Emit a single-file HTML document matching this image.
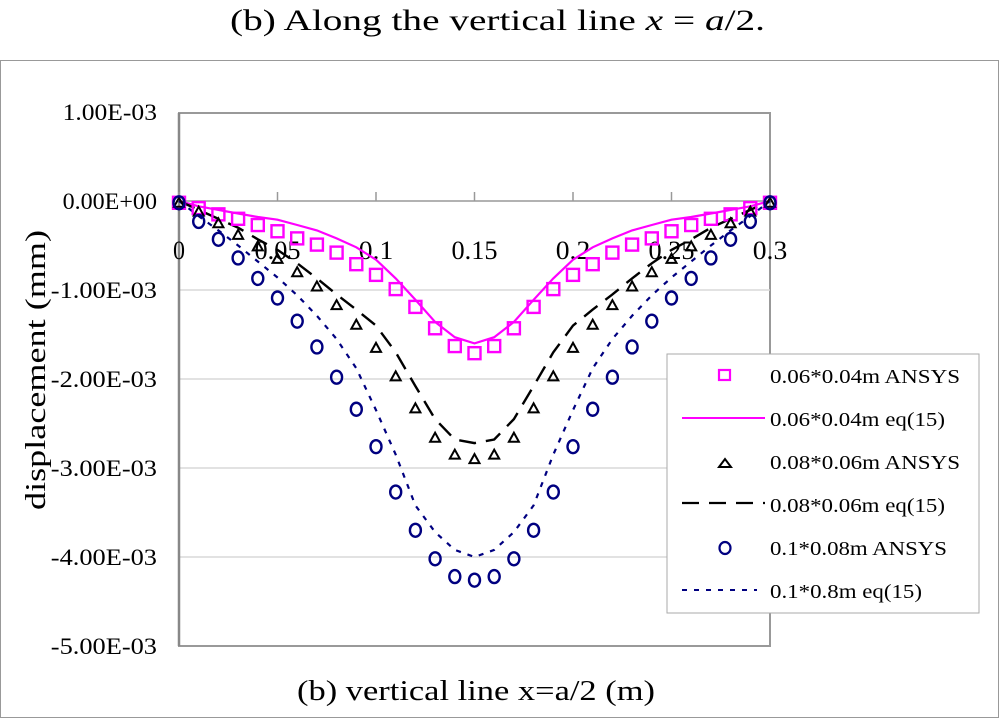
<!DOCTYPE html>
<html><head><meta charset="utf-8"><style>
body{margin:0;background:#fff;}
svg{display:block;font-family:"Liberation Serif",serif;}
</style></head><body>
<svg id="chart" width="1000" height="718" xmlns="http://www.w3.org/2000/svg">
<text x="230" y="30" font-size="30" textLength="535" lengthAdjust="spacingAndGlyphs">(b) Along the vertical line <tspan font-style="italic">x</tspan> = <tspan font-style="italic">a</tspan>/2.</text>
<rect x="0.5" y="60.5" width="998" height="657" fill="none" stroke="#999"/>
<rect x="179" y="113" width="591" height="533" fill="none" stroke="#999" stroke-width="2"/>
<g id="grid"></g>
<g id="axes"></g>
<g id="series"></g>
<text transform="translate(45,370) rotate(-90)" font-size="28" text-anchor="middle" textLength="280" lengthAdjust="spacingAndGlyphs">displacement (mm)</text>
<text x="297" y="700" font-size="29" textLength="358" lengthAdjust="spacingAndGlyphs">(b) vertical line x=a/2 (m)</text>
<g>
<rect x="667" y="354" width="312" height="259" fill="#fff" stroke="#aaa"/>
<rect x="719" y="370" width="11" height="10" fill="none" stroke="#ff00ff" stroke-width="2.2"/>
<text x="770" y="383" font-size="20" textLength="190" lengthAdjust="spacingAndGlyphs">0.06*0.04m ANSYS</text>
<line x1="682" y1="418" x2="765" y2="418" stroke="#ff00ff" stroke-width="2"/>
<text x="770" y="426" font-size="20" textLength="175" lengthAdjust="spacingAndGlyphs">0.06*0.04m eq(15)</text>
<path d="M719,467 L725,459 L731,467 Z" fill="none" stroke="#000" stroke-width="2"/>
<text x="770" y="469" font-size="20" textLength="190" lengthAdjust="spacingAndGlyphs">0.08*0.06m ANSYS</text>
<line x1="682" y1="503" x2="765" y2="503" stroke="#000" stroke-width="2.2" stroke-dasharray="17,10"/>
<text x="770" y="512" font-size="20" textLength="175" lengthAdjust="spacingAndGlyphs">0.08*0.06m eq(15)</text>
<ellipse cx="725" cy="548" rx="5.5" ry="6" fill="none" stroke="#000080" stroke-width="2.2"/>
<text x="770" y="555" font-size="20" textLength="177" lengthAdjust="spacingAndGlyphs">0.1*0.08m ANSYS</text>
<line x1="682" y1="590" x2="757" y2="590" stroke="#000080" stroke-width="2" stroke-dasharray="5,7"/>
<text x="770" y="598" font-size="20" textLength="152" lengthAdjust="spacingAndGlyphs">0.1*0.8m eq(15)</text>
</g>
</svg>
<script>
const xTicks=[0,0.05,0.1,0.15,0.2,0.25,0.3];
const xTickLabels=["0","0.05","0.1","0.15","0.2","0.25","0.3"];
const yTicks=[1,0,-1,-2,-3,-4,-5];
const yTickLabels=["1.00E-03","0.00E+00","-1.00E-03","-2.00E-03","-3.00E-03","-4.00E-03","-5.00E-03"];
const xs=[0,0.01,0.02,0.03,0.04,0.05,0.06,0.07,0.08,0.09,0.10,0.11,0.12,0.13,0.14,0.15,0.16,0.17,0.18,0.19,0.20,0.21,0.22,0.23,0.24,0.25,0.26,0.27,0.28,0.29,0.30];
const halfSq=[-0.02,-0.08,-0.15,-0.2,-0.27,-0.34,-0.42,-0.49,-0.58,-0.71,-0.83,-0.99,-1.19,-1.43,-1.63,-1.71];
const halfSqLine=[0,-0.06,-0.1,-0.14,-0.18,-0.21,-0.27,-0.33,-0.42,-0.52,-0.66,-0.87,-1.11,-1.36,-1.53,-1.6];
const halfTri=[-0.02,-0.12,-0.25,-0.38,-0.51,-0.65,-0.8,-0.96,-1.17,-1.39,-1.65,-1.97,-2.33,-2.66,-2.85,-2.9];
const halfTriLine=[0,-0.1,-0.2,-0.3,-0.43,-0.55,-0.7,-0.87,-1.05,-1.22,-1.4,-1.7,-2.08,-2.45,-2.68,-2.72];
const halfCirc=[-0.02,-0.23,-0.43,-0.64,-0.87,-1.09,-1.35,-1.64,-1.98,-2.34,-2.76,-3.27,-3.7,-4.02,-4.22,-4.26];
const halfCircLine=[0,-0.17,-0.33,-0.5,-0.68,-0.86,-1.06,-1.29,-1.55,-1.88,-2.35,-2.85,-3.42,-3.72,-3.92,-4.0];
function mirror(h){return h.concat(h.slice(0,-1).reverse());}
const sq=mirror(halfSq),sqL=mirror(halfSqLine),tri=mirror(halfTri),triL=mirror(halfTriLine),circ=mirror(halfCirc),circL=mirror(halfCircLine);
const NS="http://www.w3.org/2000/svg";
const X=v=>179+v/0.3*591;
const Y=v=>201-v*89;
function mk(tag,attrs,parent){const e=document.createElementNS(NS,tag);for(const k in attrs)e.setAttribute(k,attrs[k]);parent.appendChild(e);return e;}
const grid=document.getElementById('grid'),axes=document.getElementById('axes'),ser=document.getElementById('series');
yTicks.forEach((t,i)=>{
  if(t<0&&t>-5){const g=mk('line',{x1:179,x2:770,y1:Y(t),y2:Y(t),stroke:'#d8d8d8','stroke-width':1.5},grid);
  
  }
  const lab=yTickLabels[i];
  const w=lab.length*11.8;
  const tx=mk('text',{x:157,y:Y(t)+8,'font-size':23,'text-anchor':'end',textLength:w,lengthAdjust:'spacingAndGlyphs'},axes);tx.textContent=lab;
  
  
});
const zl=mk('line',{x1:179,x2:770,y1:Y(0),y2:Y(0),stroke:'#999','stroke-width':1.5},axes);


const yl=mk('line',{x1:179,x2:179,y1:113,y2:646,stroke:'#888','stroke-width':2.5},axes);


xTicks.forEach((t,i)=>{
  const tk=mk('line',{x1:X(t),x2:X(t),y1:Y(0),y2:Y(0)-9,stroke:'#999','stroke-width':1.5},axes);
  
  
  const lab=xTickLabels[i];
  const w=lab.length===1?12:lab.length*11.5;
  const tx=mk('text',{x:X(t)-w/2,y:259,'font-size':26,textLength:w,lengthAdjust:'spacingAndGlyphs'},axes);tx.textContent=lab;
  
  
});
function line(vals,color,w,dash,name){
  const d=vals.map((v,i)=>(i?'L':'M')+X(xs[i]).toFixed(1)+','+Y(v).toFixed(1)).join(' ');
  const p=mk('path',{d:d,fill:'none',stroke:color,'stroke-width':w,'stroke-dasharray':dash},ser);
  
  
}
line(sqL,'#ff00ff',2.2,'none','series-magenta-eq15');
line(triL,'#000',2.4,'17,10','series-black-eq15');
line(circL,'#000080',2.2,'5,7','series-blue-eq15');
sq.forEach((v,i)=>{const r=mk('rect',{x:X(xs[i])-6,y:Y(v)-6,width:12,height:12,fill:'none',stroke:'#ff00ff','stroke-width':2.4},ser);
  
  });
tri.forEach((v,i)=>{const x=X(xs[i]),y=Y(v);const p=mk('path',{d:`M${x-5},${y+4} L${x},${y-5} L${x+5},${y+4} Z`,fill:'none',stroke:'#000','stroke-width':2},ser);
  
  });
circ.forEach((v,i)=>{const c=mk('ellipse',{cx:X(xs[i]),cy:Y(v),rx:5.5,ry:6.5,fill:'none',stroke:'#000080','stroke-width':2.4},ser);
  
  });
</script>
</body></html>
